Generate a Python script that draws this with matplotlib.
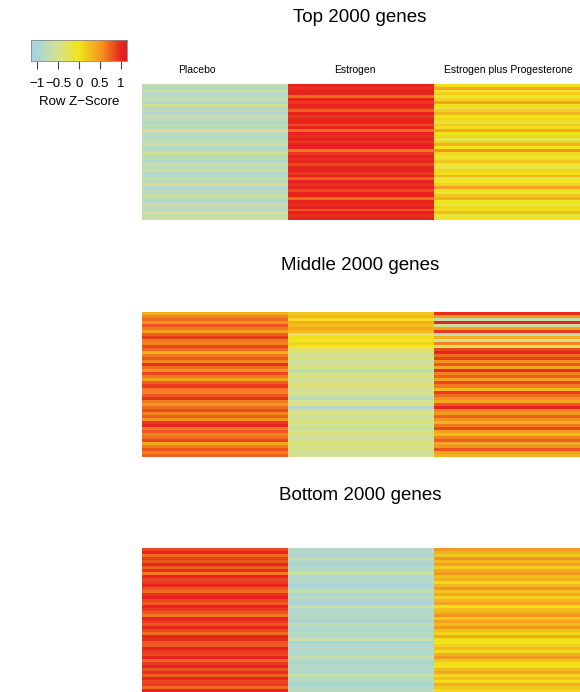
import numpy as np
import matplotlib
matplotlib.use("Agg")
import matplotlib.pyplot as plt
from matplotlib.colors import LinearSegmentedColormap, Normalize

plt.rcParams['font.family'] = ['Liberation Sans', 'DejaVu Sans']

# column labels and panel titles
groups = ["Placebo", "Estrogen", "Estrogen plus Progesterone"]
titles = ["Top 2000 genes", "Middle 2000 genes", "Bottom 2000 genes"]
key_ticks = [-1, -0.5, 0, 0.5, 1]
key_labels = ["\u22121", "\u22120.5", "0", "0.5", "1"]

# row z-scores (one value per stripe)
top_placebo = [-0.75, -0.85, -0.6, -0.9, -0.8, -0.7, -0.9, -0.55, -0.85, -0.75, -0.9, -0.65,
               -0.8, -0.9, -0.7, -0.85, -0.5, -0.8, -0.9, -0.75, -0.85, -0.65, -0.9, -0.8,
               -0.55, -0.85, -0.75, -0.9, -0.7, -0.8, -0.6, -0.9, -0.85, -0.7, -0.8, -0.55,
               -0.9, -0.75, -0.85, -0.65, -0.8, -0.9, -0.6, -0.75, -0.85, -0.5, -0.7, -0.6]
top_estrogen = [1.0, 0.95, 1.0, 1.0, 0.7, 1.0, 0.9, 1.0, 0.95, 0.75, 1.0, 0.9,
                1.0, 1.0, 0.85, 1.0, 0.7, 1.0, 0.95, 1.0, 0.9, 1.0, 1.0, 0.65,
                0.9, 1.0, 0.95, 1.0, 0.85, 1.0, 1.0, 0.9, 1.0, 0.75, 1.0, 0.95,
                1.0, 0.85, 1.0, 1.0, 0.7, 1.0, 0.95, 1.0, 0.8, 1.0, 0.95, 1.0]
top_epp = [0.05, 0.4, 0.0, 0.15, -0.1, 0.1, 0.45, 0.05, -0.2, 0.15, 0.3, 0.0,
           0.1, -0.15, 0.2, 0.05, 0.4, 0.0, 0.1, -0.2, 0.15, 0.35, 0.0, 0.55,
           0.1, -0.1, 0.05, 0.2, 0.0, -0.2, 0.1, 0.05, 0.3, -0.15, 0.0, 0.1,
           0.45, 0.05, -0.1, 0.2, 0.35, 0.0, -0.2, 0.1, 0.05, 0.25, -0.15, 0.0]

mid_placebo = [0.35, 0.6, 0.7, 0.55, 0.8, 0.65, 0.45, 0.75, 0.9, 0.65, 0.6, 0.85,
               0.7, 0.35, 0.65, 0.8, 0.6, 0.95, 0.7, 0.55, 0.85, 0.65, 0.45, 0.75,
               0.9, 0.65, 0.6, 0.8, 0.95, 0.65, 0.5, 0.7, 0.85, 0.6, 0.75, 0.55,
               0.9, 1.0, 0.65, 0.8, 0.6, 0.7, 0.85, 0.4, 0.65, 0.8, 0.6, 0.75]
mid_estrogen = [0.2, 0.3, 0.05, 0.35, 0.25, 0.4, 0.3, -0.35, 0.05, -0.05, 0.1, 0.0,
                -0.3, -0.45, -0.55, -0.4, -0.6, -0.5, -0.45, -0.8, -0.55, -0.4, -0.6, -0.5,
                -0.35, -0.55, -0.45, -0.6, -0.85, -0.5, -0.4, -0.9, -0.55, -0.45, -0.6, -0.5,
                -0.4, -0.55, -0.7, -0.45, -0.35, -0.6, -0.5, -0.4, -0.55, -0.45, -0.6, -0.5]
mid_epp = [0.95, 0.5, -0.7, 1.0, -0.6, 0.45, 0.9, -0.75, 0.35, -0.5, 0.6, -0.3,
           0.85, 1.0, 0.7, 0.9, 0.55, 0.8, 0.4, 0.95, 0.6, 0.75, 0.45, 0.85,
           0.65, 0.3, 0.9, 0.7, 0.55, 0.4, 0.8, 1.0, 0.6, 0.5, 0.75, 0.55,
           0.35, 0.65, 0.85, 0.45, 0.3, 0.6, 0.75, 0.4, 0.55, 0.8, 0.45, 0.35]

bot_placebo = [0.85, 1.0, 0.7, 0.9, 0.8, 1.0, 0.75, 0.95, 0.65, 1.0, 0.85, 0.9,
               1.0, 0.8, 0.7, 0.95, 1.0, 0.85, 0.75, 1.0, 0.9, 0.8, 0.65, 1.0,
               0.9, 0.8, 1.0, 0.85, 0.7, 1.0, 0.95, 0.8, 0.75, 1.0, 0.9, 0.85,
               1.0, 0.7, 0.9, 1.0, 0.8, 0.95, 0.75, 1.0, 0.85, 0.9, 0.7, 1.0]
bot_estrogen = [-0.9, -0.85, -0.95, -0.7, -0.9, -1.0, -0.85, -0.9, -0.6, -0.95, -0.9, -0.85,
                -1.0, -0.9, -0.7, -0.95, -0.85, -0.9, -1.0, -0.65, -0.9, -0.95, -0.85, -0.9,
                -1.0, -0.75, -0.9, -0.95, -0.85, -0.9, -0.6, -1.0, -0.9, -0.85, -0.95, -0.9,
                -0.7, -0.9, -1.0, -0.85, -0.9, -0.95, -0.65, -0.9, -0.85, -1.0, -0.9, -0.8]
bot_epp = [0.5, 0.35, 0.2, 0.55, 0.3, 0.45, 0.15, 0.4, 0.5, 0.25, 0.35, 0.1,
           0.3, 0.5, 0.2, 0.4, 0.15, 0.3, 0.45, 0.05, 0.25, 0.35, 0.55, 0.2,
           0.45, 0.3, 0.5, 0.25, 0.1, 0.4, 0.05, 0.0, 0.15, 0.3, 0.05, 0.35,
           0.5, 0.2, 0.05, 0.0, 0.3, 0.4, 0.1, 0.25, 0.05, 0.35, 0.2, 0.1]

panels = [
    np.column_stack([top_placebo, top_estrogen, top_epp]),
    np.column_stack([mid_placebo, mid_estrogen, mid_epp]),
    np.column_stack([bot_placebo, bot_estrogen, bot_epp]),
]

vmin, vmax = -1.14, 1.14
nodes = [(-1.14, "#a6d3e2"), (-1.0, "#aad6d6"), (-0.5, "#d5e291"), (0.0, "#f2e61b"),
         (0.55, "#f4921f"), (1.0, "#e8231f"), (1.14, "#e31d1f")]
cmap = LinearSegmentedColormap.from_list(
    "zscore", [((v - vmin) / (vmax - vmin), c) for v, c in nodes])
norm = Normalize(vmin=vmin, vmax=vmax)

W, H = 580, 692
fig = plt.figure(figsize=(W / 100, H / 100), dpi=100)


def box(x0, y0, x1, y1):
    return [x0 / W, 1 - y1 / H, (x1 - x0) / W, (y1 - y0) / H]


# heatmap panels (pixel boxes)
boxes = [(142, 84, 580, 220), (142, 312, 580, 457), (142, 548, 580, 692)]
title_y = [17, 265, 496]
for data, b, t, ty in zip(panels, boxes, titles, title_y):
    ax = fig.add_axes(box(*b))
    ax.imshow(data, cmap=cmap, norm=norm, aspect="auto", interpolation="nearest")
    ax.axis("off")
    fig.text(360 / W, 1 - ty / H, t, ha="center", va="center", fontsize=13.5)

# column labels over the top panel
label_x = [197, 355, 508]
for g, lx in zip(groups, label_x):
    fig.text(lx / W, 1 - 70 / H, g, ha="center", va="center", fontsize=7.5)

# colour key
kax = fig.add_axes(box(31, 40, 127, 61))
grad = np.linspace(vmin, vmax, 256).reshape(1, -1)
kax.imshow(grad, cmap=cmap, norm=norm, aspect="auto", extent=[vmin, vmax, 0, 1])
kax.set_xlim(vmin, vmax)
kax.set_yticks([])
kax.set_xticks(key_ticks)
kax.set_xticklabels(key_labels, fontsize=9.5)
kax.tick_params(axis="x", length=6, width=0.8, color="#444444", pad=6)
for s in kax.spines.values():
    s.set_color("#888888")
    s.set_linewidth(0.6)
fig.text(79 / W, 1 - 102 / H, "Row Z\u2212Score", ha="center", va="center", fontsize=9.5)

fig.savefig("out.png", dpi=100)
